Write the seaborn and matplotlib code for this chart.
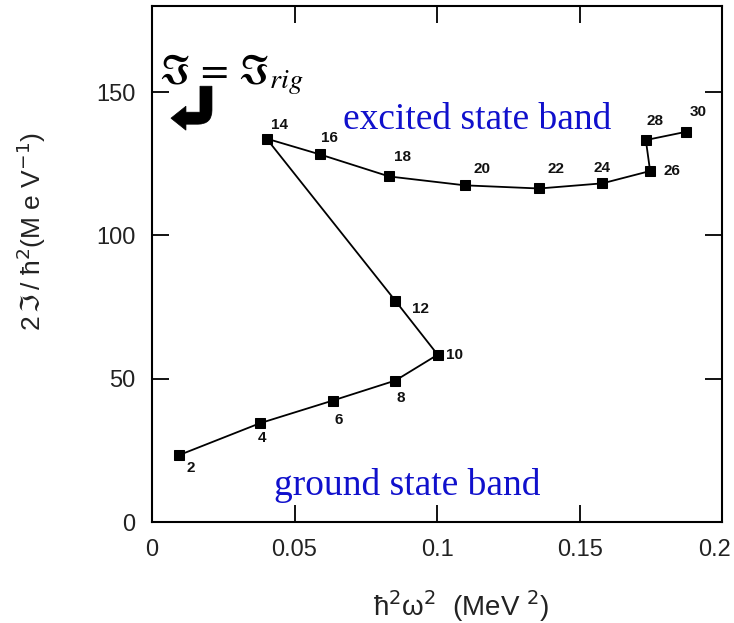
import matplotlib
matplotlib.use("Agg")
import matplotlib.pyplot as plt
import matplotlib.transforms as mtransforms
from matplotlib.path import Path
from matplotlib.patches import PathPatch
import seaborn as sns
import pandas as pd

# ---- data ----
spin = [2, 4, 6, 8, 10, 12, 14, 16, 18, 20, 22, 24, 26, 28, 30]
hw2 = [0.0096, 0.0379, 0.0634, 0.0854, 0.1002, 0.0853, 0.0402, 0.0589,
       0.0832, 0.1098, 0.1358, 0.1580, 0.1747, 0.1732, 0.1874]
moi = [23.4, 34.5, 42.4, 49.4, 58.4, 77.3, 133.8, 128.3,
       120.6, 117.5, 116.4, 118.2, 122.5, 133.3, 136.2]
x_ticks = [0, 0.05, 0.1, 0.15, 0.2]
x_tick_labels = ["0", "0.05", "0.1", "0.15", "0.2"]
y_ticks = [0, 50, 100, 150]
y_tick_labels = ["0", "50", "100", "150"]

# label offsets in pixels (dx, dy) and alignment
offsets = [(11, -13), (2, -15), (6, -19), (5, -17), (8, 0), (17, -8),
           (13, 14), (10, 16), (13, 19), (17, 16), (17, 19), (0, 15),
           (13, 0), (9, 19), (12, 20)]
aligns = ["center", "center", "center", "center", "left", "left",
          "center", "center", "center", "center", "center", "center",
          "left", "center", "center"]

df = pd.DataFrame({"hw2": hw2, "moi": moi, "spin": spin})

sns.set_style("ticks")
plt.rcParams["font.family"] = ["Liberation Sans", "DejaVu Sans"]
plt.rcParams["mathtext.fontset"] = "dejavusans"

fig = plt.figure(figsize=(7.34, 6.23), dpi=100)
ax = fig.add_axes([0.207, 0.162, 0.777, 0.828])

sns.lineplot(data=df, x="hw2", y="moi", sort=False, ax=ax, color="black",
             linewidth=1.3, marker="s", markersize=6.5, markeredgecolor="black",
             markerfacecolor="black")

for s, xv, yv, (dx, dy), ha in zip(spin, hw2, moi, offsets, aligns):
    ax.annotate(str(s), (xv, yv), xytext=(dx, dy), textcoords="offset pixels",
                ha=ha, va="center", fontsize=11, fontweight="bold",
                color="#111111")

ax.set_xlim(0, 0.2)
ax.set_ylim(0, 180)
ax.set_xticks(x_ticks)
ax.set_xticklabels(x_tick_labels)
ax.set_yticks(y_ticks)
ax.set_yticklabels(y_tick_labels)
ax.tick_params(direction="in", length=12, width=1.3, top=True, right=True,
               labelsize=17, pad=12, colors="black", labelcolor="#222222")
lbl = ax.get_xticklabels()[-1]
lbl.set_horizontalalignment("right")
lbl.set_transform(lbl.get_transform() +
                  mtransforms.ScaledTranslation(0.09, 0, fig.dpi_scale_trans))
for sp in ax.spines.values():
    sp.set_visible(True)
    sp.set_linewidth(1.5)
    sp.set_color("black")

ax.set_xlabel("ħ$^2$ω$^2$  (MeV $^2$)", fontsize=20, color="#222222")
ax.xaxis.set_label_coords(0.542, -0.128)
ax.set_ylabel(r"2$\,\Im\,$/ ħ$^2$(M e V$^{-1}$)", fontsize=19,
              color="#222222")
ax.yaxis.set_label_coords(-0.182, 0.564)

ax.text(0.114, 140.5, "excited state band", color="#1010cc", fontsize=27,
        family="Liberation Serif", ha="center", va="center")
ax.text(0.0895, 12.8, "ground state band", color="#1010cc", fontsize=27,
        family="Liberation Serif", ha="center", va="center")

ax.text(0.013, 0.868, r"$\Im\, =\, \Im_{rig}$", transform=ax.transAxes,
        fontsize=29, ha="left", va="center", color="black",
        math_fontfamily="stix")


# bent arrow drawn as a filled shape (pixel positions -> axes fraction)
def fr(px, py):
    return ((px - 152) / 570.0, (522 - py) / 516.0)


verts = [fr(200, 86), fr(212, 86), fr(212, 110), fr(212, 124), fr(198, 124),
         fr(186, 124), fr(186, 130), fr(171, 118), fr(186, 106),
         fr(186, 112), fr(198, 112), fr(200, 112), fr(200, 86)]
codes = [Path.MOVETO, Path.LINETO, Path.LINETO, Path.CURVE3, Path.CURVE3,
         Path.LINETO, Path.LINETO, Path.LINETO, Path.LINETO,
         Path.LINETO, Path.LINETO, Path.LINETO, Path.CLOSEPOLY]
ax.add_patch(PathPatch(Path(verts, codes), transform=ax.transAxes,
                       facecolor="black", edgecolor="black", lw=0.5,
                       clip_on=False))

fig.savefig("out.png", dpi=100)
